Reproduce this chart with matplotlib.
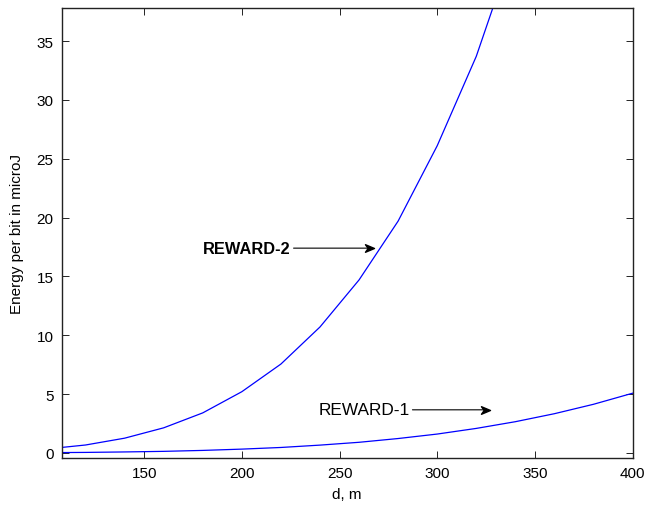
import matplotlib
matplotlib.use("Agg")
import matplotlib.pyplot as plt
from matplotlib.path import Path
import numpy as np

plt.rcParams['font.family'] = ['Liberation Sans', 'DejaVu Sans']

d = [100, 120, 140, 160, 180, 200, 220, 240, 260, 280, 300, 320, 340, 360, 380, 400]
reward1 = [0.02, 0.04, 0.08, 0.13, 0.21, 0.32, 0.46, 0.66, 0.9, 1.22, 1.6, 2.08, 2.65, 3.33, 4.13, 5.07]
reward2 = [0.33, 0.67, 1.25, 2.13, 3.4, 5.2, 7.55, 10.7, 14.7, 19.7, 26.1, 33.7, 43.4]

fig = plt.figure(figsize=(6.45, 5.06), dpi=100)
ax = fig.add_axes([0.0957, 0.093, 0.885, 0.889])

ax.plot(d, reward1, color='#0000ff', lw=0.9)
ax.plot(d[:len(reward2)], reward2, color='#0000ff', lw=0.9)

ax.set_xlim(107.8, 400)
ax.set_ylim(-0.43, 37.8)
ax.set_xticks(np.arange(150, 401, 50))
ax.set_yticks(np.arange(0, 36, 5))
ax.tick_params(direction='in', top=True, right=True, length=5, width=0.6,
               labelsize=11, pad=6)
for s in ax.spines.values():
    s.set_linewidth(1.0)
    s.set_color('#222222')

ax.set_xlabel("d, m", fontsize=11, labelpad=5)
ax.set_ylabel("Energy per bit in microJ", fontsize=11, labelpad=9)

# barbed arrowhead like MATLAB's default
head = Path([(0, 0), (-1, 0.42), (-0.7, 0), (-1, -0.42), (0, 0)],
            [Path.MOVETO, Path.LINETO, Path.LINETO, Path.LINETO, Path.CLOSEPOLY])

labels = [("REWARD-2", 180.2, 17.4, 267.5, 'bold', 11.8),
          ("REWARD-1", 239.2, 3.66, 327.2, 'normal', 12.4)]
for txt, x0, y0, x1, wt, fs in labels:
    ax.annotate(txt, xy=(x1 - 3, y0), xytext=(x0, y0),
                ha='left', va='center', fontsize=fs, fontweight=wt,
                arrowprops=dict(arrowstyle='-', color='black', lw=0.8,
                                shrinkA=0, shrinkB=0))
    ax.plot([x1], [y0], marker=head, markersize=13, color='black', lw=0)

fig.savefig('out.png', dpi=100)
